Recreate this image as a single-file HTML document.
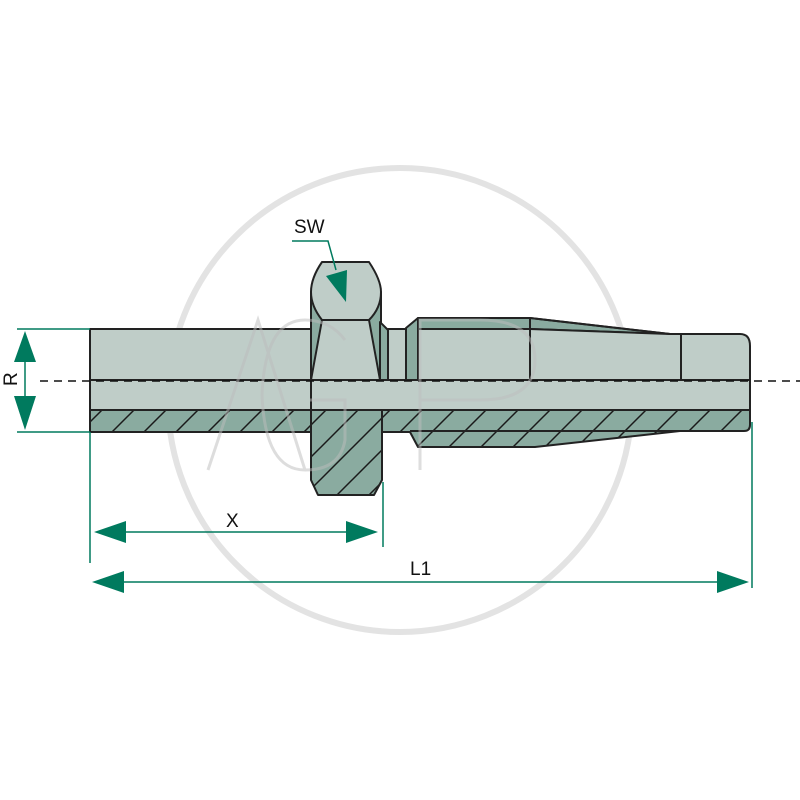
<!DOCTYPE html>
<html><head><meta charset="utf-8"><style>html,body{margin:0;padding:0;background:#fff}svg{display:block}</style></head>
<body>
<svg width="800" height="800" viewBox="0 0 800 800" xmlns="http://www.w3.org/2000/svg">
<defs>
<pattern id="h" patternUnits="userSpaceOnUse" width="32" height="32">
<rect width="32" height="32" fill="#8aaba0"/>
<path d="M0 32 L32 0 M-8 8 L8 -8 M24 40 L40 24" stroke="#1a1a1a" stroke-width="1.5"/>
</pattern>
</defs>
<circle cx="400" cy="400" r="232" fill="none" stroke="#e3e3e3" stroke-width="6"/>
<g stroke-linejoin="round" stroke="#222" stroke-width="2">
<rect x="90" y="329" width="221" height="81" fill="#bfcdc8"/>
<rect x="90" y="410" width="221" height="22" fill="url(#h)"/>
<path d="M311 410 L382 410 L382 480 L374 495 L318 495 L311 480 Z" fill="url(#h)"/>
<!-- hex body dark sides -->
<path d="M311 292 L311 380 L381 380 L381 292 Z" fill="#8aaba0"/>
<path d="M322 320 L369 320 L380 380 L311 380 Z" fill="#bfcdc8"/>
<!-- hex cap -->
<path d="M322 262 L369 262 Q381 280 381 292 Q381 308 369 320 L322 320 Q311 306 311 292 Q311 278 322 262 Z" fill="#bfcdc8"/>
<path d="M380 322 L388 330 L388 380 L380 380 Z" fill="#8aaba0"/>
<rect x="388" y="329" width="18" height="51" fill="#bfcdc8"/>
<path d="M406 328 L418 318 L418 380 L406 380 Z" fill="#8aaba0"/>
<path d="M418 318 L530 318 L670 334 L530 329 L418 329 Z" fill="#8aaba0"/>
<path d="M418 329 L530 329 L670 334 L740 334 Q750 334 750 346 L750 380 L418 380 Z" fill="#bfcdc8"/>
<line x1="530" y1="318" x2="530" y2="380"/>
<line x1="681" y1="334" x2="681" y2="380"/>
<path d="M418 318 L530 318 L670 334" fill="none"/>
<rect x="311" y="380" width="439" height="30" fill="#bfcdc8"/>
<rect x="90" y="380" width="221" height="30" fill="#bfcdc8"/>
<path d="M382 410 L750 410 L750 425 Q750 431 744 431 L680 431 L535 447 L418 447 L410 432 L382 432 Z" fill="url(#h)"/>
<line x1="410" y1="431" x2="680" y2="431"/>
</g>
<line x1="40" y1="381" x2="800" y2="381" stroke="#111" stroke-width="1.5" stroke-dasharray="8,6"/>
<g fill="none" stroke="#bdbdbd" stroke-width="3" opacity="0.5">
<path d="M208 470 L258 320 L305 470"/>
<path d="M345 340 Q330 320 305 320 Q265 320 262 395 Q265 470 305 470 Q340 470 345 440 L345 400 L310 400"/>
<path d="M420 470 L420 320 L480 320 Q535 320 535 360 Q535 400 480 400 L420 400"/>
</g>
<g stroke="#007a5e" stroke-width="1.5" fill="#007a5e">
<line x1="17" y1="329" x2="90" y2="329"/>
<line x1="17" y1="432" x2="90" y2="432"/>
<line x1="25" y1="350" x2="25" y2="410"/>
<path d="M25 331 L14 362 L36 362 Z" stroke="none"/>
<path d="M25 430 L14 396 L36 396 Z" stroke="none"/>
<line x1="90" y1="432" x2="90" y2="563"/>
<line x1="383" y1="482" x2="383" y2="547"/>
<line x1="752" y1="422" x2="752" y2="588"/>
<line x1="110" y1="532" x2="360" y2="532"/>
<path d="M94 532 L126 521 L126 543 Z" stroke="none"/>
<path d="M378 532 L346 521 L346 543 Z" stroke="none"/>
<line x1="110" y1="582" x2="730" y2="582"/>
<path d="M92 582 L124 571 L124 593 Z" stroke="none"/>
<path d="M749 582 L717 571 L717 593 Z" stroke="none"/>
<path d="M292 241 L328 241 L336 270" fill="none"/>
<path d="M346 302 L326 276 L347 270 Z" stroke="none"/>
</g>
<g font-family="Liberation Sans, sans-serif" font-size="19" fill="#111">
<text x="294" y="233">SW</text>
<text x="226" y="527">X</text>
<text x="410" y="575">L1</text>
<text transform="translate(17,386) rotate(-90)">R</text>
</g>
</svg>
</body></html>
